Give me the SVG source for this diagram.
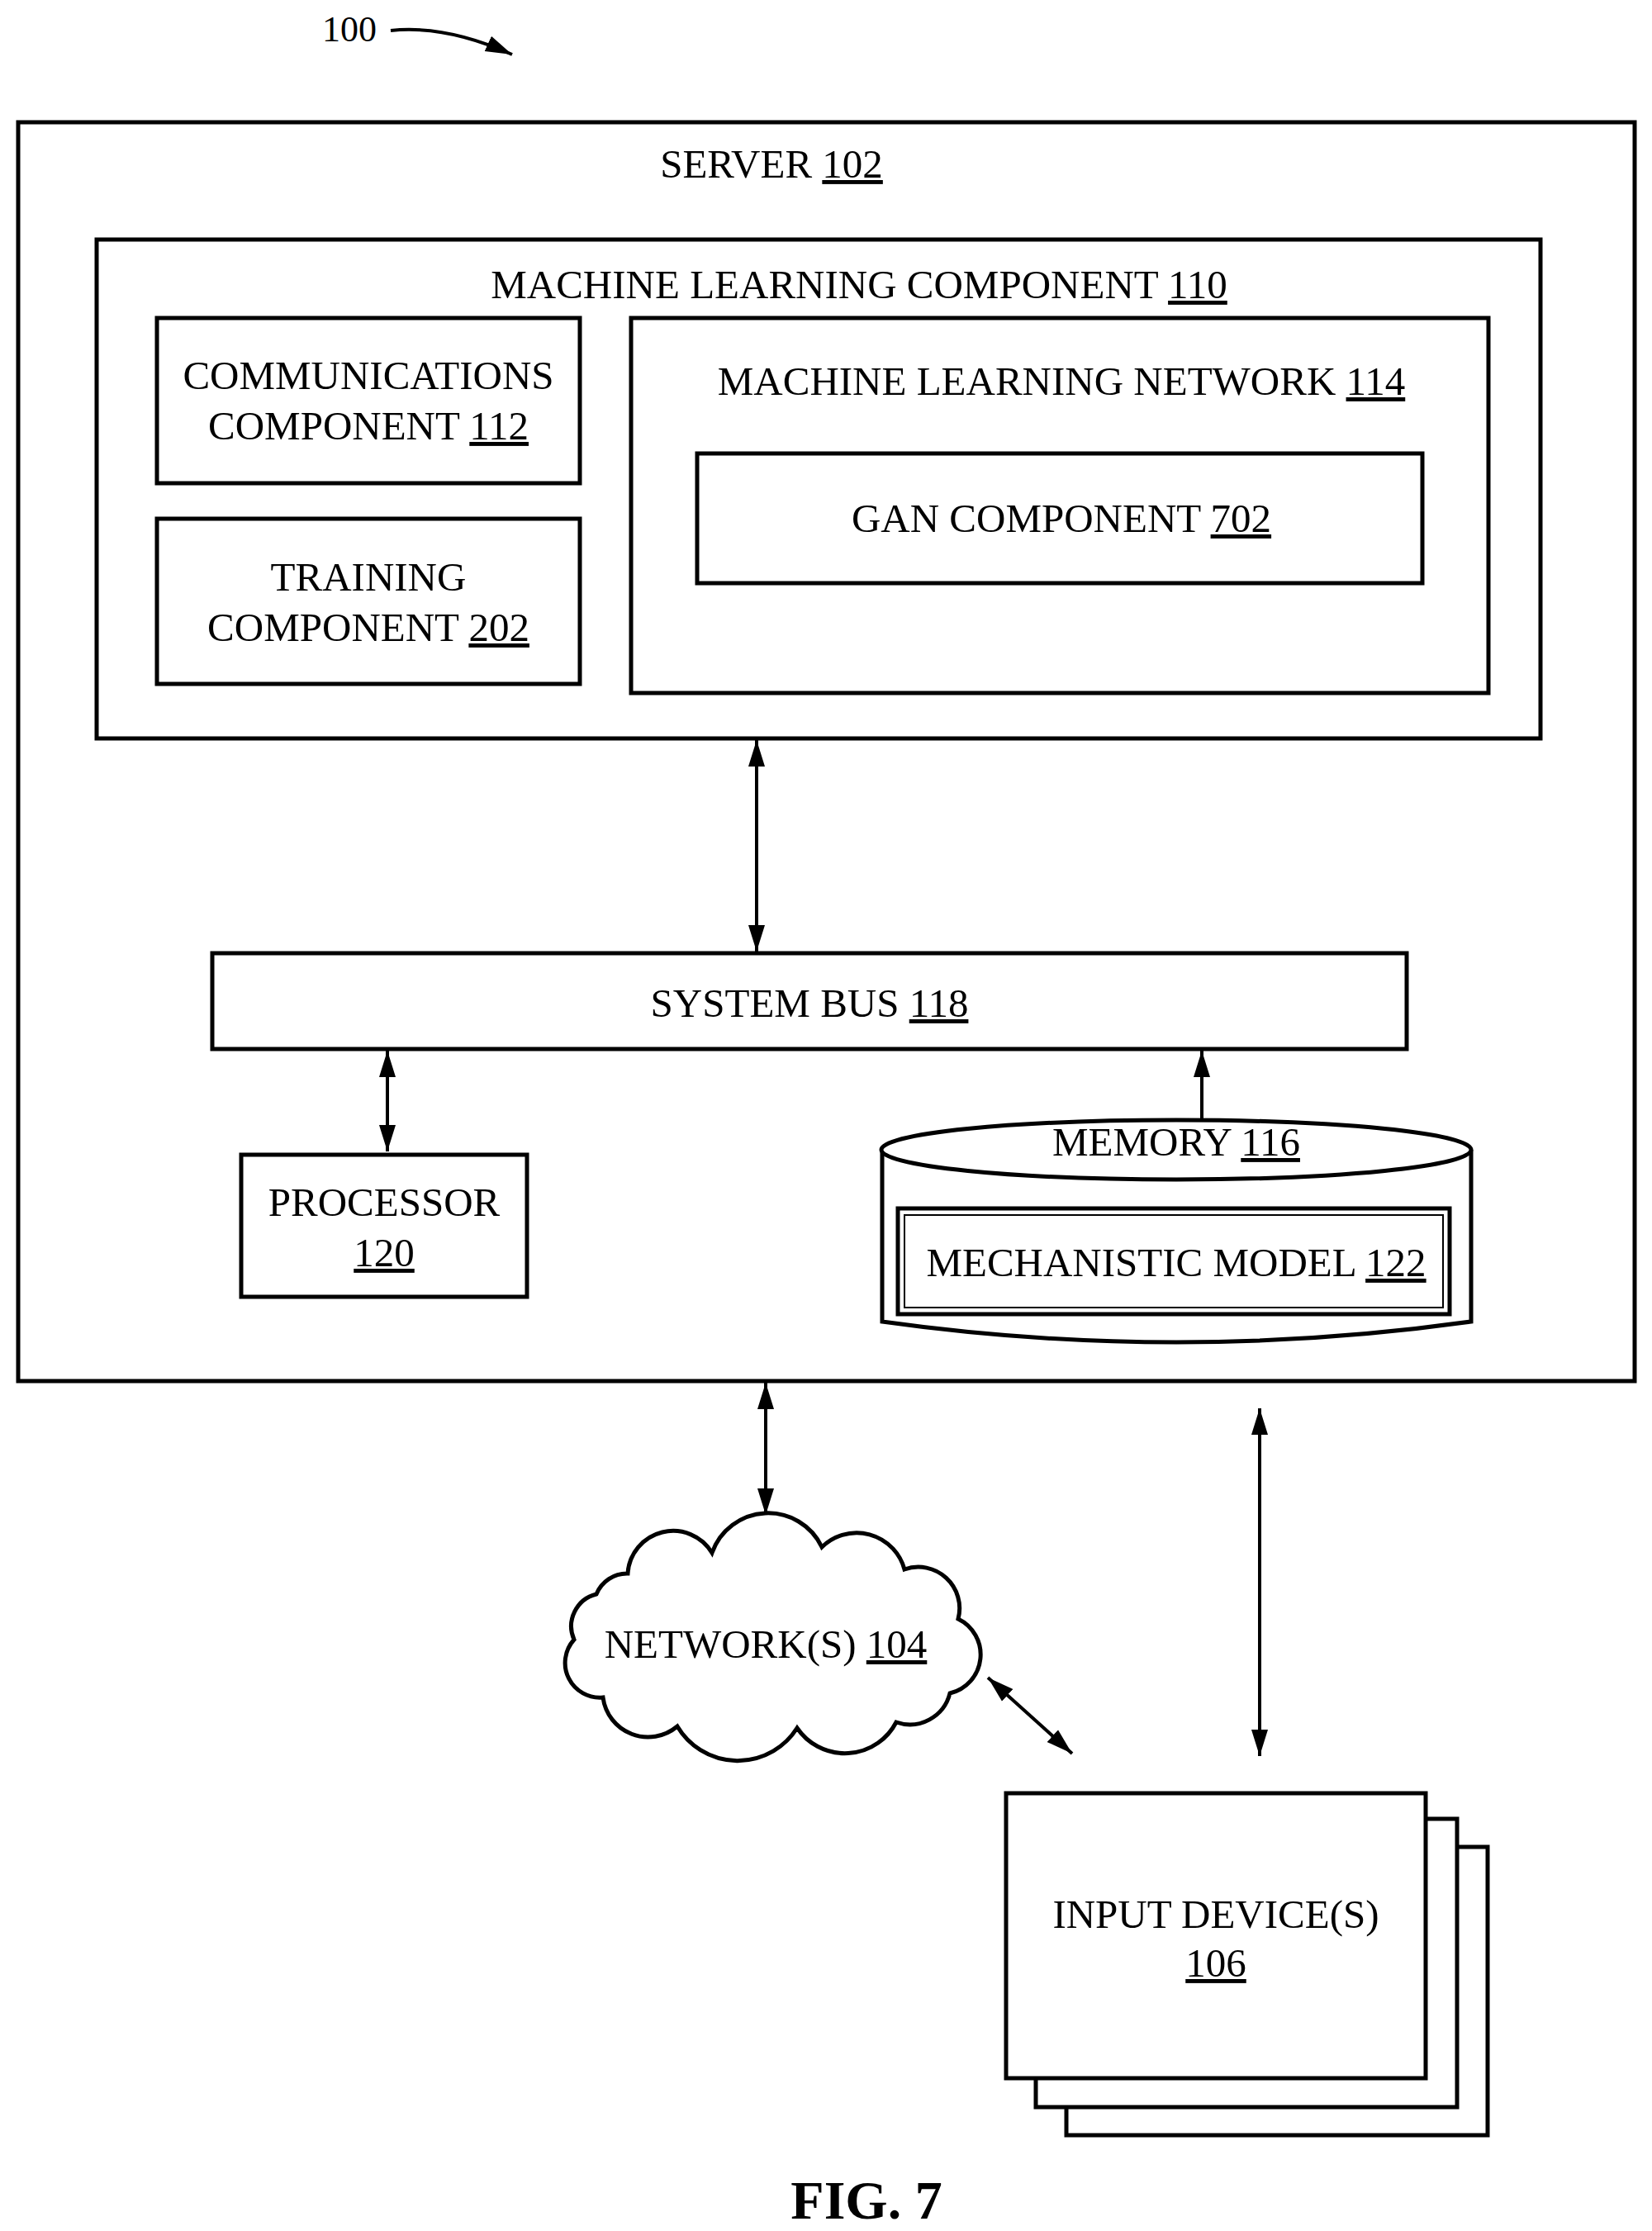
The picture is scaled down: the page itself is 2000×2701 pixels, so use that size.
<svg xmlns="http://www.w3.org/2000/svg" width="2000" height="2701" viewBox="0 0 2000 2701">
<style>
.b{fill:#fff;stroke:#000;stroke-width:5}
.t{font-family:"Liberation Serif",serif;font-size:49px;fill:#000;text-anchor:middle}
.u{text-decoration:underline}
.c{stroke:#000;stroke-width:4;fill:none}
</style>
<defs>
<marker id="a" markerUnits="userSpaceOnUse" markerWidth="34" markerHeight="24" refX="32" refY="12" orient="auto-start-reverse"><path d="M0,2 L32,12 L0,22 Z" fill="#000"/></marker>
</defs>
<rect width="2000" height="2701" fill="#fff"/>
<g id="label100">
<text x="423" y="50" class="t" style="font-size:44px">100</text>
<path d="M473,37 Q540,30 620,66" class="c" marker-end="url(#a)"/>
</g>
<g id="server"><rect x="22" y="148" width="1957" height="1524" class="b"/>
<text x="934" y="215" class="t">SERVER <tspan class="u">102</tspan></text></g>
<g id="mlc"><rect x="117" y="290" width="1748" height="604" class="b"/>
<text x="1040" y="361" class="t">MACHINE LEARNING COMPONENT <tspan class="u">110</tspan></text></g>
<g id="comm"><rect x="190" y="385" width="512" height="200" class="b"/>
<text x="446" y="471" class="t">COMMUNICATIONS</text><text x="446" y="532" class="t">COMPONENT <tspan class="u">112</tspan></text></g>
<g id="training"><rect x="190" y="628" width="512" height="200" class="b"/>
<text x="446" y="715" class="t">TRAINING</text><text x="446" y="776" class="t">COMPONENT <tspan class="u">202</tspan></text></g>
<g id="mln"><rect x="764" y="385" width="1038" height="454" class="b"/>
<text x="1285" y="478" class="t">MACHINE LEARNING NETWORK <tspan class="u">114</tspan></text></g>
<g id="gan"><rect x="844" y="549" width="878" height="157" class="b"/>
<text x="1285" y="644" class="t">GAN COMPONENT <tspan class="u">702</tspan></text></g>
<g id="bus"><rect x="257" y="1154" width="1446" height="116" class="b"/>
<text x="980" y="1231" class="t">SYSTEM BUS <tspan class="u">118</tspan></text></g>
<g id="processor"><rect x="292" y="1398" width="346" height="172" class="b"/>
<text x="465" y="1472" class="t">PROCESSOR</text><text x="465" y="1533" class="t"><tspan class="u">120</tspan></text></g>
<g id="memory">
<path d="M1068,1392 L1068,1600 Q1424,1650 1781,1600 L1781,1392" class="b"/>
<ellipse cx="1424" cy="1392" rx="357" ry="36" class="b"/>
<text x="1424" y="1399" class="t">MEMORY <tspan class="u">116</tspan></text>
<rect x="1087" y="1463" width="668" height="128" class="b"/>
<rect x="1095" y="1471" width="652" height="112" fill="none" stroke="#000" stroke-width="2"/>
<text x="1424" y="1545" class="t">MECHANISTIC MODEL <tspan class="u">122</tspan></text></g>
<g id="network">
<path d="M760,1905 A55,55 0 0 1 862,1880 A72,72 0 0 1 995,1873 A60,60 0 0 1 1095,1900 A50,50 0 0 1 1160,1960 A48,48 0 0 1 1150,2050 A50,50 0 0 1 1085,2085 A70,70 0 0 1 965,2092 A85,85 0 0 1 820,2090 A55,55 0 0 1 730,2055 A42,42 0 0 1 695,1985 A40,40 0 0 1 722,1930 A40,40 0 0 1 760,1905 Z" class="b"/>
<text x="927" y="2007" class="t">NETWORK(S) <tspan class="u">104</tspan></text></g>
<g id="input">
<rect x="1291" y="2236" width="510" height="349" class="b"/>
<rect x="1254" y="2202" width="510" height="349" class="b"/>
<rect x="1218" y="2171" width="508" height="345" class="b"/>
<text x="1472" y="2334" class="t">INPUT DEVICE(S)</text><text x="1472" y="2393" class="t"><tspan class="u">106</tspan></text></g>
<g id="connectors">
<path d="M916,896 L916,1152" class="c" marker-start="url(#a)" marker-end="url(#a)"/>
<path d="M469,1272 L469,1394" class="c" marker-start="url(#a)" marker-end="url(#a)"/>
<path d="M1455,1356 L1455,1272" class="c" marker-end="url(#a)"/>
<path d="M927,1674 L927,1834" class="c" marker-start="url(#a)" marker-end="url(#a)"/>
<path d="M1196,2031 L1298,2123" class="c" marker-start="url(#a)" marker-end="url(#a)"/>
<path d="M1525,1705 L1525,2126" class="c" marker-start="url(#a)" marker-end="url(#a)"/>
</g>
<text x="1049" y="2686" class="t" style="font-size:66px;font-weight:bold">FIG. 7</text>
</svg>
